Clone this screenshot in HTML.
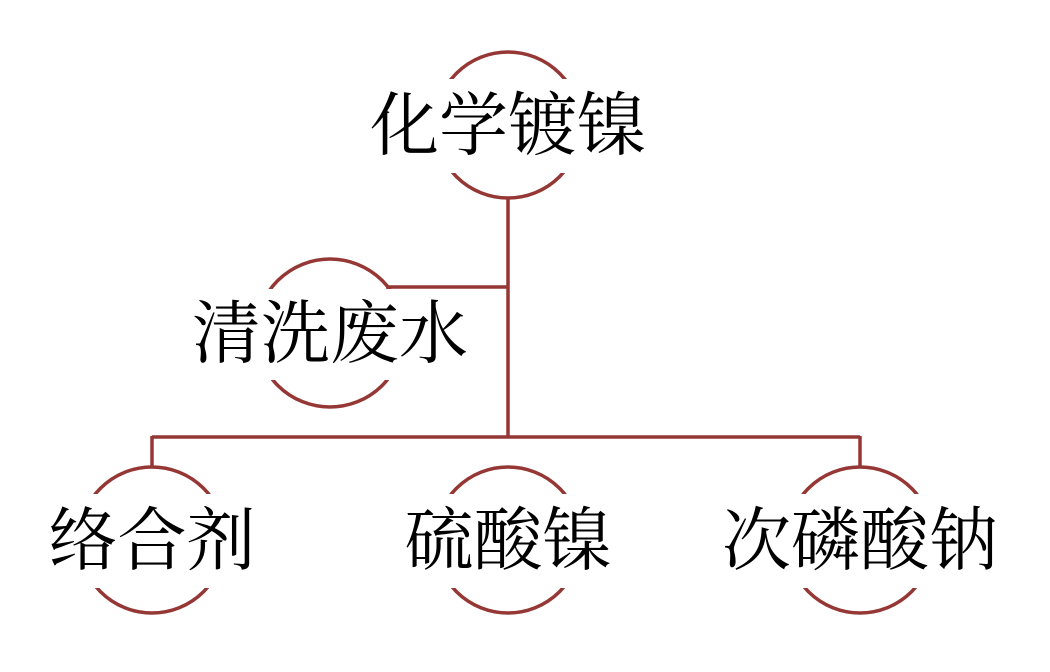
<!DOCTYPE html>
<html><head><meta charset="utf-8"><style>html,body{margin:0;padding:0;background:#fff}</style></head>
<body>
<svg width="1050" height="667" xmlns="http://www.w3.org/2000/svg">
<g stroke="#953735" stroke-width="3.5" fill="none">
<line x1="508" y1="198" x2="508" y2="437"/>
<line x1="386" y1="287" x2="508" y2="287"/>
<line x1="152" y1="437" x2="860" y2="437"/>
<line x1="152" y1="436" x2="152" y2="467"/>
<line x1="860" y1="436" x2="860" y2="467"/>
<circle cx="508" cy="125" r="73"/>
<circle cx="330" cy="333" r="74"/>
<circle cx="152" cy="540" r="73"/>
<circle cx="508" cy="540" r="73"/>
<circle cx="860" cy="540" r="73"/>
</g>
<g fill="#fff">
<rect x="420" y="79" width="180" height="94"/>
<rect x="240" y="289" width="180" height="91"/>
<rect x="60" y="494" width="190" height="94"/>
<rect x="410" y="494" width="190" height="94"/>
<rect x="770" y="494" width="190" height="94"/>
</g>
<g font-family="'Liberation Serif','Noto Serif CJK SC',serif" font-size="69" fill="#000" text-anchor="middle">
<text x="508" y="149">化学镀镍</text>
<text x="330" y="357">清洗废水</text>
<text x="152" y="564">络合剂</text>
<text x="508" y="564">硫酸镍</text>
<text x="860" y="564">次磷酸钠</text>
</g>
</svg>
</body></html>
